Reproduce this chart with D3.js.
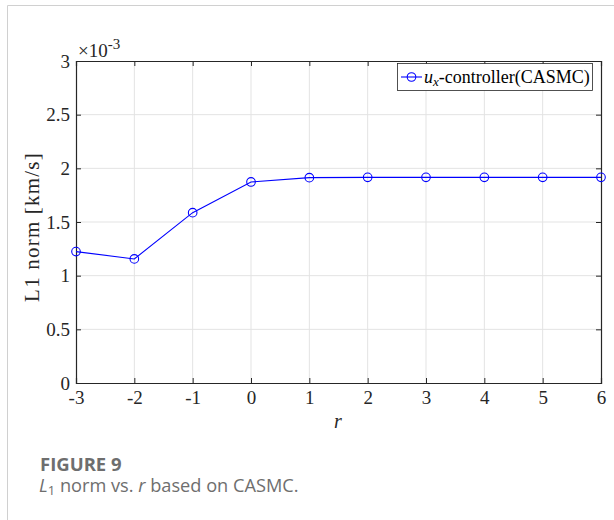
<!DOCTYPE html>
<html>
<head>
<meta charset="utf-8">
<script src="https://cdn.jsdelivr.net/npm/d3@7"></script>
<style>
  body { margin: 0; background: #fff; }
  svg text { font-family: "Liberation Serif", "Times New Roman", serif; }
</style>
</head>
<body>
<svg id="chart" width="614" height="520"></svg>
<script>
// r values and L1 norm (x 1e-3 km/s)
let rValues = [-3, -2, -1, 0, 1, 2, 3, 4, 5, 6];
let l1Norm = [1.224, 1.156, 1.587, 1.873, 1.913, 1.916, 1.916, 1.916, 1.916, 1.916];
let yTicks = [0, 0.5, 1, 1.5, 2, 2.5, 3];
let xTicks = [-3, -2, -1, 0, 1, 2, 3, 4, 5, 6];

let svg = d3.select("#chart");

// outer frame of the figure panel
svg.append("line").attr("x1", 7.5).attr("x2", 614).attr("y1", 5.5).attr("y2", 5.5)
    .attr("stroke", "#d0d0d0");
svg.append("line").attr("x1", 7.5).attr("x2", 7.5).attr("y1", 5.5).attr("y2", 520)
    .attr("stroke", "#d0d0d0");

let pLeft = 76, pRight = 601, pTop = 61, pBottom = 383;
let x = d3.scaleLinear().domain([-3, 6]).range([pLeft, pRight]);
let y = d3.scaleLinear().domain([0, 3]).range([pBottom, pTop]);

// grid
svg.append("g").selectAll("line").data(xTicks.slice(1, -1)).join("line")
    .attr("x1", d => x(d)).attr("x2", d => x(d)).attr("y1", pTop).attr("y2", pBottom)
    .attr("stroke", "#e3e3e3").attr("stroke-width", 1);
svg.append("g").selectAll("line").data(yTicks.slice(1, -1)).join("line")
    .attr("x1", pLeft).attr("x2", pRight).attr("y1", d => y(d)).attr("y2", d => y(d))
    .attr("stroke", "#e3e3e3").attr("stroke-width", 1);

// axes
let xAxis = svg.append("g").attr("transform", `translate(0,${pBottom})`)
    .call(d3.axisBottom(x).tickValues(xTicks).tickSize(-5).tickPadding(8).tickFormat(d => String(d)));
let xTop = svg.append("g").attr("transform", `translate(0,${pTop})`)
    .call(d3.axisTop(x).tickValues(xTicks).tickSize(-5).tickFormat(""));
let yAxis = svg.append("g").attr("transform", `translate(${pLeft},0)`)
    .call(d3.axisLeft(y).tickValues(yTicks).tickSize(-5).tickPadding(6).tickFormat(d => String(d)));
let yRight = svg.append("g").attr("transform", `translate(${pRight},0)`)
    .call(d3.axisRight(y).tickValues(yTicks).tickSize(-5).tickFormat(""));

[xAxis, xTop, yAxis, yRight].forEach(g => {
  g.select(".domain").attr("stroke", "#262626").attr("stroke-width", 1.2);
  g.selectAll(".tick line").attr("stroke", "#262626");
  g.selectAll("text").attr("font-size", 19).attr("fill", "#262626")
    .attr("font-family", "Liberation Serif, serif");
});
yAxis.selectAll("text").attr("dy", "0.33em");

// exponent label
let ex = svg.append("text").attr("x", 78).attr("y", 57).attr("font-size", 19).attr("fill", "#262626");
ex.append("tspan").text("\u00d710");
ex.append("tspan").attr("dy", -8).attr("font-size", 15).text("-3");

// axis titles
svg.append("text").attr("transform", `translate(39,${(pTop + pBottom) / 2 + 5}) rotate(-90)`)
    .attr("text-anchor", "middle").attr("font-size", 21).attr("letter-spacing", 1.2)
    .attr("fill", "#262626").text("L1 norm [km/s]");
svg.append("text").attr("x", 338).attr("y", 428)
    .attr("text-anchor", "middle").attr("font-size", 20).attr("font-style", "italic")
    .attr("fill", "#262626").text("r");

// series
let line = d3.line().x((d, i) => x(rValues[i])).y(d => y(d));
svg.append("path").datum(l1Norm).attr("d", line)
    .attr("fill", "none").attr("stroke", "#0000ff").attr("stroke-width", 1.1);
svg.append("g").selectAll("circle").data(l1Norm).join("circle")
    .attr("cx", (d, i) => x(rValues[i])).attr("cy", d => y(d)).attr("r", 4.3)
    .attr("fill", "none").attr("stroke", "#0000ff").attr("stroke-width", 1.1);

// legend
let lg = svg.append("g");
lg.append("rect").attr("x", 397.5).attr("y", 63.5).attr("width", 195).attr("height", 27)
    .attr("fill", "#fff").attr("stroke", "#262626").attr("stroke-width", 0.8);
lg.append("line").attr("x1", 401).attr("x2", 422).attr("y1", 77).attr("y2", 77)
    .attr("stroke", "#0000ff").attr("stroke-width", 1.1);
lg.append("circle").attr("cx", 411.5).attr("cy", 77).attr("r", 4.3)
    .attr("fill", "none").attr("stroke", "#0000ff").attr("stroke-width", 1.1);
let lt = lg.append("text").attr("x", 424).attr("y", 83).attr("font-size", 18).attr("fill", "#000");
lt.append("tspan").attr("font-style", "italic").text("u");
lt.append("tspan").attr("font-style", "italic").attr("font-size", 13).attr("dy", 3).text("x");
lt.append("tspan").attr("dy", -3).text("-controller(CASMC)");

// caption
let cap = svg.append("g");
cap.append("text").attr("x", 40).attr("y", 470.5).attr("font-size", 18.5).attr("font-weight", "bold")
    .attr("fill", "#6e6e6e").style("font-family", "'Open Sans', sans-serif").text("FIGURE 9");
let c2 = cap.append("text").attr("x", 39).attr("y", 492).attr("font-size", 18.2)
    .attr("fill", "#6e6e6e").style("font-family", "'Open Sans', sans-serif");
c2.append("tspan").attr("font-style", "italic").text("L");
c2.append("tspan").attr("font-size", 13).attr("dy", 3).text("1");
c2.append("tspan").attr("dy", -3).text(" norm vs. ");
c2.append("tspan").attr("font-style", "italic").text("r");
c2.append("tspan").text(" based on CASMC.");
</script>
</body>
</html>
